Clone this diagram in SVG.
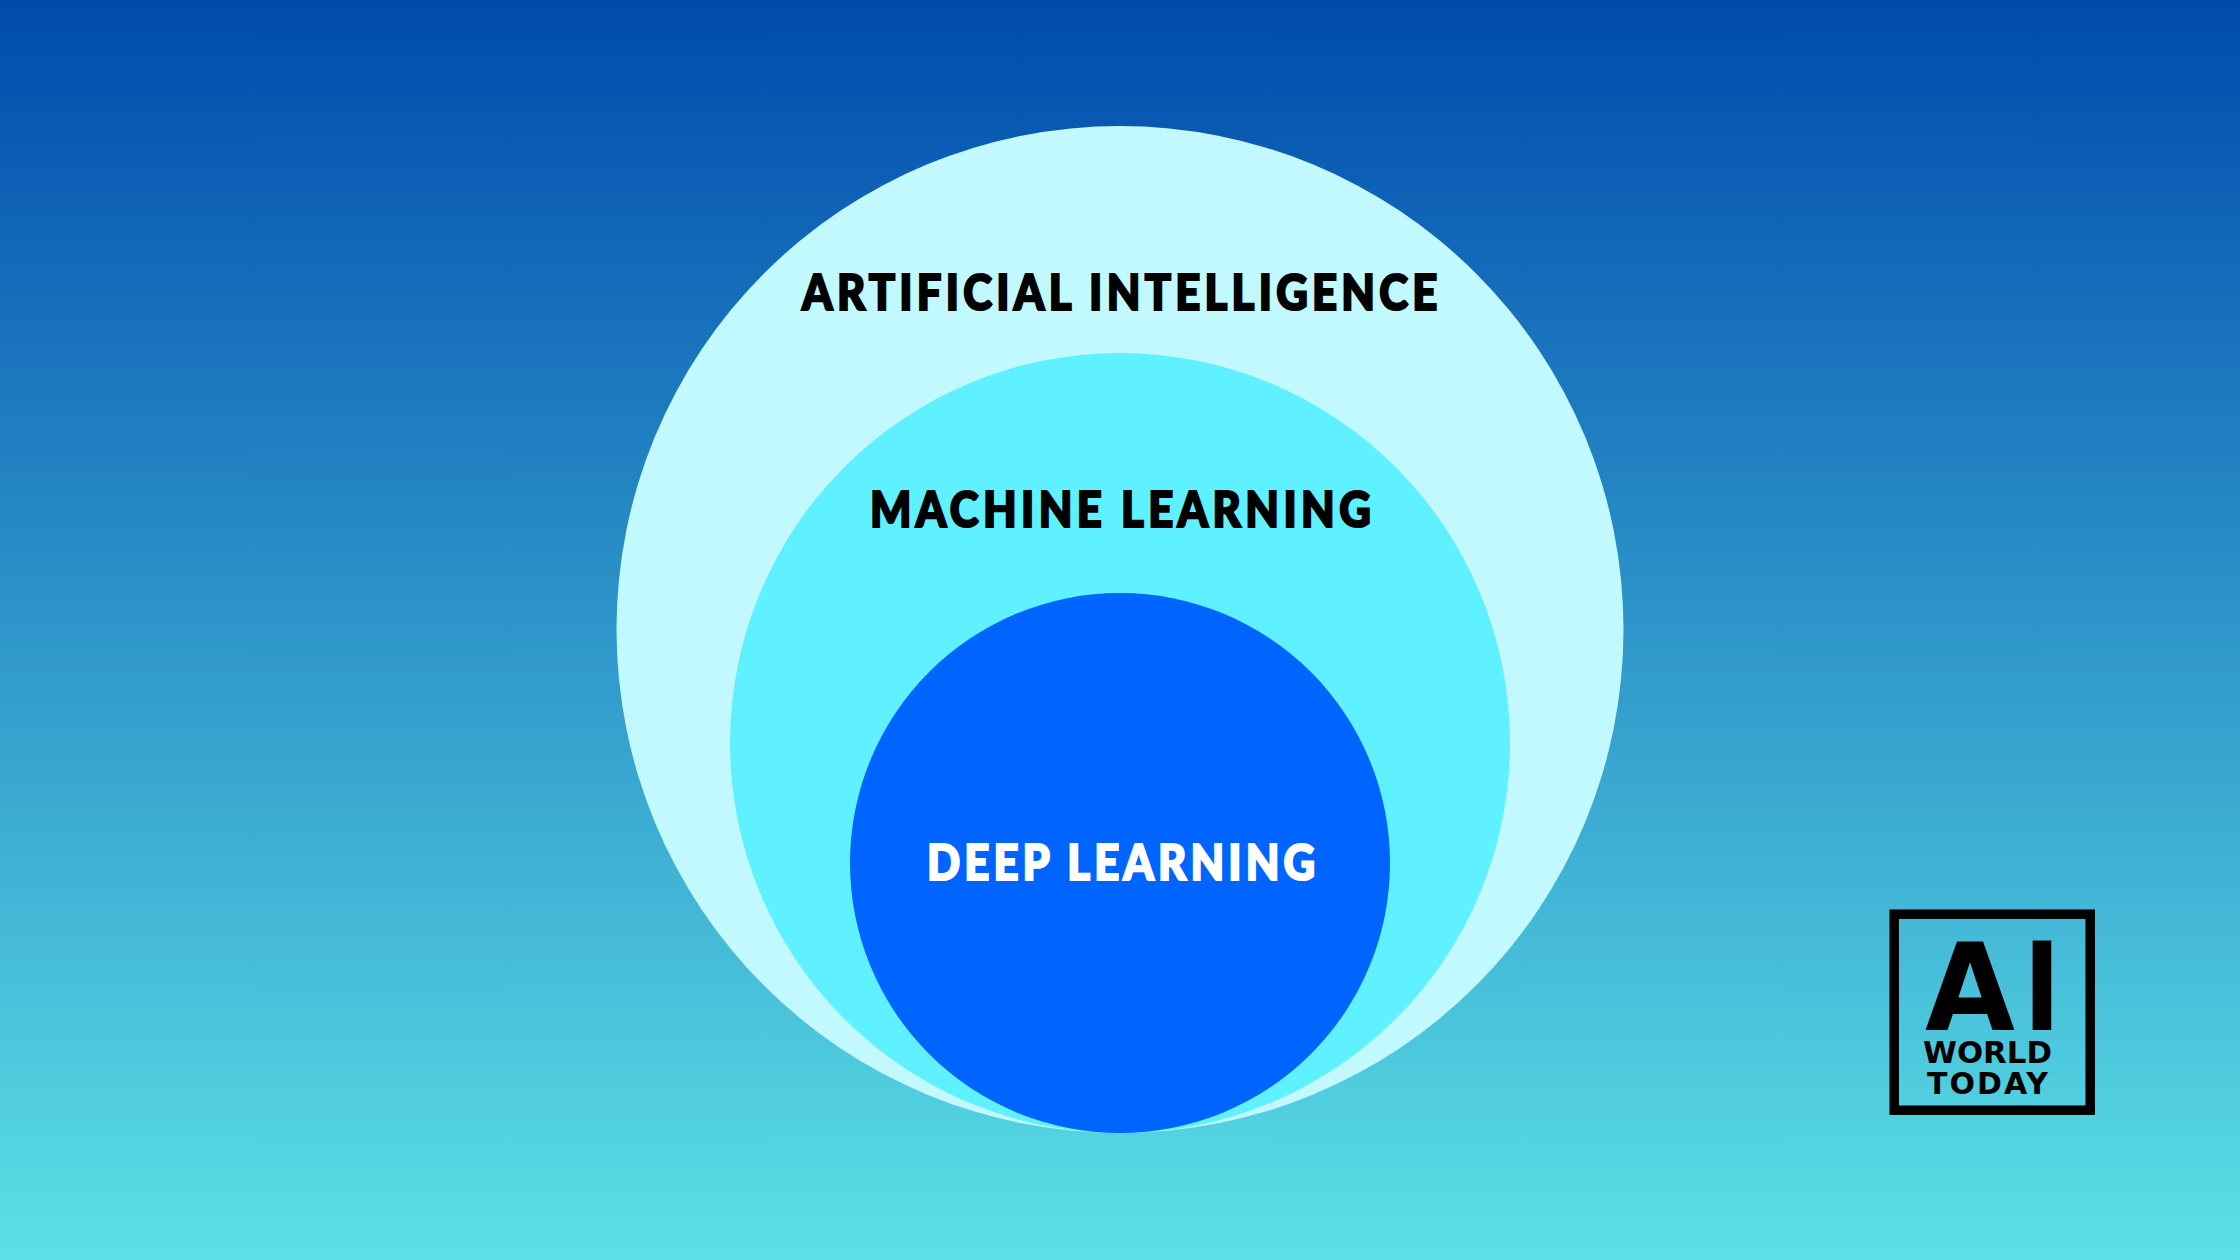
<svg xmlns="http://www.w3.org/2000/svg" width="2240" height="1260" viewBox="0 0 2240 1260">
<style>
.lbl{font-family:"Lato","Liberation Sans",sans-serif;font-weight:900;font-size:49.5px;text-anchor:start;stroke-width:2.2px;paint-order:stroke}
.logo{font-family:"DejaVu Sans","Liberation Sans",sans-serif;font-weight:700;fill:#000;text-anchor:start}
</style>
<defs><linearGradient id="bg" x1="0" y1="0" x2="0" y2="1"><stop offset="0" stop-color="#004aad"/><stop offset="1" stop-color="#5ce1e6"/></linearGradient></defs>
<rect id="background" width="2240" height="1260" fill="url(#bg)"/>
<g id="artificial-intelligence"><circle cx="1120" cy="629.5" r="503.5" fill="#c1f9ff"/><text class="lbl" transform="translate(802 309.5) scale(.88 1)" x="0" y="0" fill="#000" stroke="#000" textLength="722" lengthAdjust="spacing">ARTIFICIAL INTELLIGENCE</text></g>
<g id="machine-learning"><circle cx="1120" cy="743" r="390" fill="#5ff1ff"/><text class="lbl" transform="translate(870 526.5) scale(.88 1)" x="0" y="0" fill="#000" stroke="#000" textLength="569" lengthAdjust="spacing">MACHINE LEARNING</text></g>
<g id="deep-learning"><circle cx="1120" cy="863" r="270" fill="#0064ff"/><text class="lbl" transform="translate(927 879.5) scale(.88 1)" x="0" y="0" fill="#fff" stroke="#fff" textLength="441" lengthAdjust="spacing">DEEP LEARNING</text></g>
<g id="logo"><rect x="1894.2" y="914.2" width="196" height="196" fill="none" stroke="#000" stroke-width="9.5"/>
<text class="logo" x="1925" y="1030" font-size="122" textLength="90" lengthAdjust="spacingAndGlyphs">A</text>
<text x="2024" y="1030" font-size="129" font-family="Liberation Sans, sans-serif" font-weight="700" fill="#000">I</text>
<text class="logo" x="1923" y="1063" font-size="31" textLength="129" lengthAdjust="spacingAndGlyphs">WORLD</text>
<text class="logo" x="1927" y="1094" font-size="30" textLength="121" lengthAdjust="spacing">TODAY</text></g>
</svg>
